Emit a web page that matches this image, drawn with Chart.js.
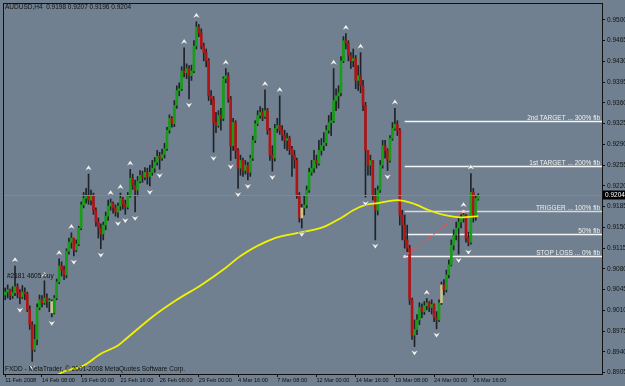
<!DOCTYPE html>
<html><head><meta charset="utf-8">
<script src="https://cdn.jsdelivr.net/npm/chart.js@4/dist/chart.umd.min.js"></script>
<style>
html,body{margin:0;padding:0;background:#708090;overflow:hidden;}
#wrap{width:625px;height:386px;position:relative;}
</style></head><body>
<div id="wrap"><canvas id="c" width="625" height="386"></canvas></div>
<script>
// ---- data (AUDUSD H4) ----
const openP = [
0.9036,0.9041,0.9045,0.9035,0.9040,0.9050,0.9040,0.9033,0.9041,0.9038,
0.9011,0.8986,0.8944,0.8961,0.9015,0.9028,0.9023,0.9031,0.9025,0.9025,
0.9006,0.9031,0.9058,0.9085,0.9078,0.9070,0.9110,0.9125,0.9132,0.9112,
0.9122,0.9149,0.9188,0.9199,0.9204,0.9196,0.9203,0.9179,0.9159,0.9149,
0.9139,0.9154,0.9169,0.9186,0.9191,0.9183,0.9176,0.9186,0.9199,0.9189,
0.9184,0.9203,0.9233,0.9221,0.9213,0.9228,0.9238,0.9235,0.9243,0.9236,
0.9243,0.9250,0.9260,0.9270,0.9267,0.9273,0.9283,0.9314,0.9334,0.9325,
0.9356,0.9381,0.9384,0.9414,0.9411,0.9418,0.9406,0.9414,0.9456,0.9488,
0.9478,0.9456,0.9445,0.9431,0.9372,0.9367,0.9327,0.9322,0.9339,0.9334,
0.9401,0.9406,0.9367,0.9288,0.9327,0.9280,0.9250,0.9263,0.9246,0.9255,
0.9243,0.9267,0.9297,0.9325,0.9339,0.9344,0.9337,0.9347,0.9314,0.9272,
0.9267,0.9317,0.9322,0.9314,0.9305,0.9297,0.9300,0.9283,0.9272,0.9263,
0.9204,0.9166,0.9183,0.9188,0.9213,0.9243,0.9250,0.9263,0.9258,0.9280,
0.9288,0.9293,0.9314,0.9327,0.9330,0.9364,0.9372,0.9377,0.9431,0.9465,
0.9461,0.9440,0.9431,0.9435,0.9398,0.9406,0.9389,0.9356,0.9280,0.9255,
0.9263,0.9204,0.9179,0.9213,0.9255,0.9288,0.9280,0.9263,0.9300,0.9317,
0.9324,0.9314,0.9171,0.9154,0.9129,0.9115,0.9028,0.8968,0.8978,0.8994,
0.9015,0.9008,0.9018,0.9023,0.9015,0.9020,0.8998,0.8994,0.9023,0.9053,
0.9045,0.9070,0.9087,0.9120,0.9137,0.9149,0.9159,0.9166,0.9171,0.9132,
0.9125,0.9209,0.9171,0.9198];
const highP = [
0.9048,0.9053,0.9046,0.9050,0.9085,0.9055,0.9045,0.9052,0.9048,0.9041,
0.9018,0.8991,0.8986,0.9021,0.9036,0.9035,0.9060,0.9038,0.9030,0.9028,
0.9035,0.9063,0.9097,0.9092,0.9085,0.9114,0.9132,0.9141,0.9132,0.9129,
0.9152,0.9193,0.9209,0.9216,0.9240,0.9213,0.9208,0.9183,0.9166,0.9156,
0.9159,0.9176,0.9196,0.9198,0.9193,0.9188,0.9191,0.9208,0.9201,0.9196,
0.9209,0.9248,0.9240,0.9230,0.9236,0.9246,0.9245,0.9251,0.9250,0.9255,
0.9263,0.9268,0.9280,0.9277,0.9282,0.9292,0.9319,0.9340,0.9337,0.9364,
0.9389,0.9394,0.9421,0.9453,0.9426,0.9423,0.9424,0.9465,0.9497,0.9492,
0.9485,0.9461,0.9451,0.9435,0.9381,0.9371,0.9344,0.9347,0.9351,0.9404,
0.9418,0.9411,0.9371,0.9334,0.9330,0.9283,0.9272,0.9267,0.9263,0.9260,
0.9272,0.9304,0.9330,0.9347,0.9354,0.9351,0.9382,0.9351,0.9317,0.9288,
0.9324,0.9334,0.9372,0.9322,0.9314,0.9309,0.9304,0.9287,0.9280,0.9267,
0.9209,0.9189,0.9204,0.9220,0.9250,0.9263,0.9280,0.9272,0.9297,0.9300,
0.9310,0.9322,0.9339,0.9344,0.9418,0.9384,0.9389,0.9438,0.9472,0.9477,
0.9465,0.9445,0.9451,0.9440,0.9423,0.9445,0.9398,0.9361,0.9280,0.9272,
0.9263,0.9216,0.9220,0.9263,0.9297,0.9297,0.9283,0.9305,0.9327,0.9351,
0.9330,0.9317,0.9179,0.9171,0.9154,0.9120,0.9031,0.8994,0.9003,0.9023,
0.9021,0.9025,0.9030,0.9025,0.9028,0.9021,0.9008,0.9028,0.9058,0.9062,
0.9078,0.9095,0.9129,0.9146,0.9159,0.9166,0.9172,0.9178,0.9172,0.9142,
0.9241,0.9216,0.9204,0.9207];
const lowP = [
0.9028,0.9031,0.9028,0.9030,0.9035,0.9031,0.9021,0.9030,0.9028,0.9008,
0.8978,0.8924,0.8941,0.8952,0.9011,0.9016,0.9020,0.9015,0.9008,0.8999,
0.9004,0.9028,0.9055,0.9068,0.9062,0.9065,0.9105,0.9115,0.9102,0.9109,
0.9119,0.9146,0.9183,0.9191,0.9189,0.9188,0.9172,0.9152,0.9132,0.9114,
0.9129,0.9146,0.9162,0.9179,0.9174,0.9169,0.9167,0.9179,0.9181,0.9172,
0.9181,0.9201,0.9214,0.9176,0.9203,0.9225,0.9226,0.9230,0.9223,0.9220,
0.9238,0.9243,0.9255,0.9248,0.9263,0.9267,0.9280,0.9309,0.9319,0.9320,
0.9351,0.9372,0.9381,0.9404,0.9401,0.9367,0.9398,0.9411,0.9451,0.9472,
0.9451,0.9431,0.9421,0.9364,0.9357,0.9277,0.9310,0.9319,0.9314,0.9330,
0.9394,0.9361,0.9263,0.9280,0.9266,0.9216,0.9238,0.9236,0.9240,0.9230,
0.9236,0.9263,0.9293,0.9322,0.9334,0.9330,0.9334,0.9307,0.9263,0.9245,
0.9262,0.9310,0.9307,0.9297,0.9283,0.9280,0.9273,0.9236,0.9250,0.9199,
0.9159,0.9149,0.9171,0.9183,0.9209,0.9238,0.9243,0.9250,0.9255,0.9272,
0.9280,0.9288,0.9309,0.9305,0.9327,0.9347,0.9351,0.9372,0.9428,0.9451,
0.9431,0.9418,0.9421,0.9384,0.9381,0.9377,0.9347,0.9201,0.9238,0.9238,
0.9196,0.9129,0.9171,0.9209,0.9250,0.9267,0.9246,0.9260,0.9297,0.9314,
0.9305,0.9154,0.9129,0.9115,0.9109,0.9020,0.8961,0.8949,0.8969,0.8986,
0.8998,0.9003,0.9011,0.9008,0.9004,0.8991,0.8979,0.8991,0.9020,0.9036,
0.9041,0.9065,0.9085,0.9112,0.9129,0.9105,0.9149,0.9159,0.9125,0.9119,
0.9122,0.9159,0.9162,0.9196];
const closeP = [
0.9041,0.9045,0.9035,0.9040,0.9050,0.9040,0.9033,0.9041,0.9038,0.9011,
0.8986,0.8944,0.8961,0.9015,0.9028,0.9023,0.9031,0.9025,0.9025,0.9006,
0.9031,0.9058,0.9085,0.9078,0.9070,0.9110,0.9125,0.9132,0.9112,0.9122,
0.9149,0.9188,0.9199,0.9204,0.9196,0.9203,0.9179,0.9159,0.9149,0.9139,
0.9154,0.9169,0.9186,0.9191,0.9183,0.9176,0.9186,0.9199,0.9189,0.9184,
0.9203,0.9233,0.9221,0.9213,0.9228,0.9238,0.9235,0.9243,0.9236,0.9243,
0.9250,0.9260,0.9270,0.9267,0.9273,0.9283,0.9314,0.9334,0.9325,0.9356,
0.9381,0.9384,0.9414,0.9411,0.9418,0.9406,0.9414,0.9456,0.9488,0.9478,
0.9456,0.9445,0.9431,0.9372,0.9367,0.9327,0.9322,0.9339,0.9334,0.9401,
0.9406,0.9367,0.9288,0.9327,0.9280,0.9250,0.9263,0.9246,0.9255,0.9243,
0.9267,0.9297,0.9325,0.9339,0.9344,0.9337,0.9347,0.9314,0.9272,0.9267,
0.9317,0.9322,0.9314,0.9305,0.9297,0.9300,0.9283,0.9272,0.9263,0.9204,
0.9166,0.9183,0.9188,0.9213,0.9243,0.9250,0.9263,0.9258,0.9280,0.9288,
0.9293,0.9314,0.9327,0.9330,0.9364,0.9372,0.9377,0.9431,0.9465,0.9461,
0.9440,0.9431,0.9435,0.9398,0.9406,0.9389,0.9356,0.9280,0.9255,0.9263,
0.9204,0.9179,0.9213,0.9255,0.9288,0.9280,0.9263,0.9300,0.9317,0.9324,
0.9314,0.9171,0.9154,0.9129,0.9115,0.9028,0.8968,0.8978,0.8994,0.9015,
0.9008,0.9018,0.9023,0.9015,0.9020,0.8998,0.8994,0.9023,0.9053,0.9045,
0.9070,0.9087,0.9120,0.9137,0.9149,0.9159,0.9166,0.9171,0.9132,0.9125,
0.9209,0.9171,0.9199,0.9204];
const tanBars = [19, 121, 178];
const upFractals = [4,16,22,27,34,43,47,51,73,78,90,106,112,134,139,145,159,172,187,190];
const downFractals = [6,11,19,28,39,46,49,53,59,63,75,85,92,95,99,109,121,147,151,156,167,176,185,189];
const maIndex = [20,24,32,39,46,49,60,70,80,90,96,110,121,130,137,142,147,152,160,166,173,179,186,193];
const maValue = [0.8898,0.8907,0.8917,0.8937,0.8951,0.8961,0.8999,0.9028,0.9053,0.9082,0.9102,0.9132,0.9142,0.9151,0.9166,0.9179,0.9188,0.9191,0.9196,0.9191,0.9179,0.9171,0.9167,0.9169];
const tickIndex = [0,15,31,47,63,79,95,111,127,143,159,175,191];
const tickText = ['11 Feb 2008','14 Feb 08:00','19 Feb 00:00','21 Feb 16:00','26 Feb 08:00','29 Feb 00:00','4 Mar 16:00','7 Mar 08:00','12 Mar 00:00','14 Mar 16:00','19 Mar 08:00','24 Mar 00:00','26 Mar 16:00'];
const yTicks = [0.9500,0.9465,0.9430,0.9395,0.9360,0.9325,0.9290,0.9255,0.9220,0.9185,0.9150,0.9115,0.9080,0.9045,0.9010,0.8975,0.8940,0.8905];
const fibLevels = [0.9329, 0.9253, 0.9177, 0.9139, 0.9101];
const fibLabels = ['2nd TARGET ... 300% fib','1st TARGET ... 200% fib','TRIGGER ... 100% fib','50% fib','STOP LOSS ... 0% fib'];
const fibStart = 163;
const trendIdx = [163, 187];
const trendVal = [0.9101, 0.9177];
const bidPrice = 0.9204;
const header = 'AUDUSD,H4  0.9198 0.9207 0.9196 0.9204';
const orderText = '#2181 4605 buy';
const orderPrice = 0.9067;
const copyright = 'FXDD - MetaTrader, \u00a9 2001-2008 MetaQuotes Software Corp.';

// ---- build ----
const N = 244;
const nBars = closeP.length;
const labels = Array.from({length: N}, (_, i) => String(i));
const wickData = labels.map((_, i) => i < nBars ? [lowP[i], highP[i]] : null);
const bodyData = labels.map((_, i) => i < nBars ? [Math.min(openP[i], closeP[i]), Math.max(openP[i], closeP[i])] : null);
const bodyColors = labels.map((_, i) => {
  if (i >= nBars) return 'rgba(0,0,0,0)';
  if (tanBars.includes(i)) return '#cdc48c';
  return closeP[i] >= openP[i] ? '#179d17' : '#b01414';
});
const maData = labels.map(() => null);
maIndex.forEach((k, j) => { maData[k] = maValue[j]; });
const trendData = labels.map(() => null);
trendIdx.forEach((k, j) => { trendData[k] = trendVal[j]; });

const FONT = '"Liberation Sans", Arial, sans-serif';

function arrow(ctx, cx, cy, dir) {
  ctx.beginPath();
  ctx.moveTo(cx, cy - 3.2 * dir);
  ctx.lineTo(cx + 3.8, cy + 2.6 * dir);
  ctx.lineTo(cx, cy + 0.8 * dir);
  ctx.lineTo(cx - 3.8, cy + 2.6 * dir);
  ctx.closePath();
  ctx.fill();
  ctx.stroke();
}

const overlay = {
  id: 'overlay',
  beforeDraw(chart) {
    const ctx = chart.ctx;
    ctx.save();
    ctx.fillStyle = '#708090';
    ctx.fillRect(0, 0, chart.width, chart.height);
    ctx.restore();
  },
  beforeDatasetsDraw(chart) {
    const {ctx, chartArea: a, scales: {x, y}} = chart;
    ctx.save();
    const x0 = x.getPixelForValue(fibStart);
    fibLevels.forEach((lv, k) => {
      const py = Math.round(y.getPixelForValue(lv)) + 0.5;
      ctx.strokeStyle = k === 2 ? '#d9d9d9' : '#f4f4f4';
      ctx.lineWidth = 1.6;
      ctx.beginPath(); ctx.moveTo(x0, py); ctx.lineTo(a.right, py); ctx.stroke();
    });
    ctx.restore();
  },
  afterDatasetsDraw(chart) {
    const {ctx, chartArea: a, scales: {x, y}} = chart;
    ctx.save();
    // bid line
    const by = Math.round(y.getPixelForValue(bidPrice)) + 0.5;
    ctx.strokeStyle = '#c65ac6'; ctx.lineWidth = 1;
    ctx.beginPath(); ctx.moveTo(a.left, by); ctx.lineTo(a.right, by); ctx.stroke();
    // fractal arrows
    ctx.save();
    ctx.beginPath(); ctx.rect(a.left, a.top, a.right - a.left, a.bottom - a.top); ctx.clip();
    ctx.fillStyle = '#f6f6f6'; ctx.strokeStyle = 'rgba(90,100,110,0.9)'; ctx.lineWidth = 0.5;
    upFractals.forEach(i => arrow(ctx, x.getPixelForValue(i), y.getPixelForValue(highP[i]) - 6, 1));
    downFractals.forEach(i => arrow(ctx, x.getPixelForValue(i), y.getPixelForValue(lowP[i]) + 6, -1));
    ctx.restore();
    // fib labels
    ctx.font = '6.5px ' + FONT;
    ctx.fillStyle = '#f0f0f0';
    ctx.textAlign = 'right'; ctx.textBaseline = 'alphabetic';
    fibLevels.forEach((lv, k) => {
      const py = Math.round(y.getPixelForValue(lv));
      ctx.fillText(fibLabels[k], a.right - 2, py - 1);
    });
    // texts
    ctx.fillStyle = '#111';
    ctx.textAlign = 'left'; ctx.textBaseline = 'middle';
    ctx.font = '6.5px ' + FONT;
    ctx.fillText(header, a.left + 1, 7);
    ctx.fillText(copyright, a.left + 1, 369);
    ctx.fillText(orderText, a.left + 3, y.getPixelForValue(orderPrice));
    // frame
    ctx.strokeStyle = '#111'; ctx.lineWidth = 1;
    ctx.strokeRect(a.left - 0.5, a.top - 0.5, a.right - a.left + 1, a.bottom - a.top + 1);
    // price box
    ctx.fillStyle = '#000';
    ctx.fillRect(a.right + 1, by - 5, 22, 9);
    ctx.fillStyle = '#ffffff';
    ctx.fillText(bidPrice.toFixed(4), a.right + 3, by);
    ctx.restore();
  }
};

new Chart(document.getElementById('c'), {
  type: 'bar',
  data: {
    labels,
    datasets: [
      { type: 'line', label: 'MA', data: maData, borderColor: '#f2f200', borderWidth: 1.8, pointRadius: 0, spanGaps: true, cubicInterpolationMode: 'monotone', order: 0 },
      { type: 'line', label: 'trend', data: trendData, borderColor: '#ff4a4a', borderWidth: 1.2, borderDash: [2, 2], spanGaps: true, pointRadius: 1.6, pointBackgroundColor: '#ffd0d0', pointBorderWidth: 0, order: 0 },
      { label: 'body', data: bodyData, backgroundColor: bodyColors, barThickness: 2, minBarLength: 1, grouped: false, order: 1 },
      { label: 'wick', data: wickData, backgroundColor: '#1f2327', barThickness: 1, grouped: false, order: 2 }
    ]
  },
  options: {
    responsive: false,
    animation: false,
    devicePixelRatio: 1,
    layout: { padding: { left: 3, top: 3, right: 0, bottom: 0 } },
    plugins: { legend: { display: false }, tooltip: { enabled: false } },
    scales: {
      x: {
        type: 'category', offset: true,
        grid: { drawOnChartArea: false, drawTicks: true, tickLength: 3, offset: false,
          color: c => tickIndex.includes(c.index) ? '#111' : 'rgba(0,0,0,0)' },
        border: { display: true, color: '#111' },
        ticks: { autoSkip: false, maxRotation: 0, minRotation: 0, align: 'start', padding: 0, color: '#111',
          font: { family: FONT, size: 5.6 },
          callback: (v, i) => { const k = tickIndex.indexOf(i); return k >= 0 ? tickText[k] : ''; } },
        afterFit: s => { s.height = 12; s.paddingLeft = 0; s.paddingRight = 0; }
      },
      y: {
        position: 'right', min: 0.89028, max: 0.95269,
        afterBuildTicks: s => { s.ticks = yTicks.map(v => ({ value: v })); },
        grid: { drawOnChartArea: false, drawTicks: true, tickLength: 3, color: '#111' },
        border: { display: true, color: '#111' },
        ticks: { padding: 2, color: '#111', font: { family: FONT, size: 6.5 }, callback: v => Number(v).toFixed(4) },
        afterFit: s => { s.width = 23; s.paddingTop = 0; s.paddingBottom = 0; }
      }
    }
  },
  plugins: [overlay]
});
</script>
</body></html>
